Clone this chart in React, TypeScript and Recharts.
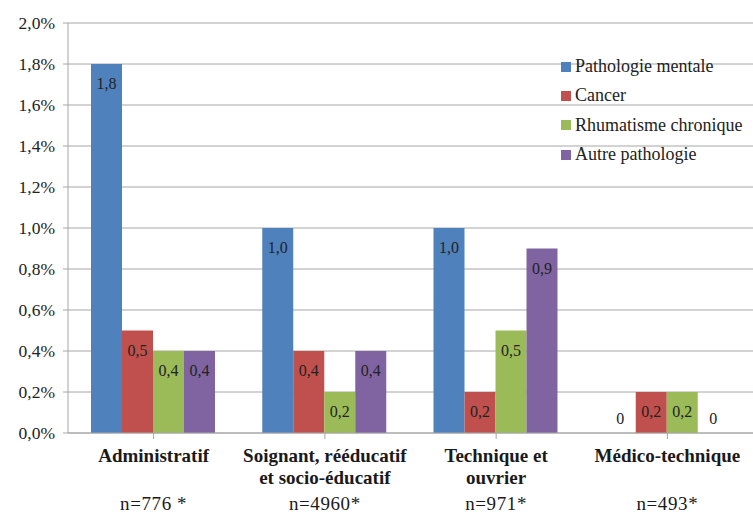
import { BarChart, Bar, XAxis, YAxis, CartesianGrid, LabelList } from 'recharts'

const categories = ['Administratif', 'Soignant', 'Technique', 'Medico']
const categoryLines = [
	['Administratif'],
	['Soignant, rééducatif', 'et socio-éducatif'],
	['Technique et', 'ouvrier'],
	['Médico-technique'],
]
const sampleSizes = ['n=776 *', 'n=4960*', 'n=971*', 'n=493*']

const mentale = [1.8, 1.0, 1.0, 0]
const cancer = [0.5, 0.4, 0.2, 0.2]
const rhumatisme = [0.4, 0.2, 0.5, 0.2]
const autre = [0.4, 0.4, 0.9, 0]

const yTicks = [0, 0.2, 0.4, 0.6, 0.8, 1.0, 1.2, 1.4, 1.6, 1.8, 2.0]

const series = [
	{ key: 'mentale', name: 'Pathologie mentale', color: '#4F81BD' },
	{ key: 'cancer', name: 'Cancer', color: '#C0504D' },
	{ key: 'rhumatisme', name: 'Rhumatisme chronique', color: '#9BBB59' },
	{ key: 'autre', name: 'Autre pathologie', color: '#8064A2' },
]

const data = categories.map((c, i) => ({
	category: c,
	mentale: mentale[i],
	cancer: cancer[i],
	rhumatisme: rhumatisme[i],
	autre: autre[i],
}))

const FONT = 'Liberation Serif'
const fmt = (v: number) => v.toFixed(1).replace('.', ',')

const CategoryTick = (props: any) => {
	const { x, y, index } = props
	const lines = categoryLines[index] ?? []
	return (
		<g>
			{lines.map((line, i) => (
				<text key={i} x={x} y={y + 21 + i * 22} textAnchor='middle' fontFamily={FONT} fontWeight='bold' fontSize={19} fill='#1a1a1a'>
					{line}
				</text>
			))}
			<text x={x} y={y + 69} textAnchor='middle' fontFamily={FONT} fontSize={19} letterSpacing={0.6} fill='#1a1a1a'>
				{sampleSizes[index]}
			</text>
		</g>
	)
}

// zero bars have no height, so their label sits just above the baseline
const ValueLabel = (props: any) => {
	const { x, y, width, height, value } = props
	const ty = !value ? y + height - 9 : y + 25
	return (
		<text x={x + width / 2} y={ty} textAnchor='middle' fontFamily={FONT} fontSize={16} fill='#222'>
			{!value ? '0' : fmt(value)}
		</text>
	)
}

const Legend = () => (
	<div style={{ position: 'absolute', left: 561, top: 52, fontFamily: FONT, fontSize: 18, color: '#222' }}>
		{series.map((s) => (
			<div key={s.key} style={{ display: 'flex', alignItems: 'center', height: 29.3 }}>
				<span style={{ width: 10, height: 10, background: s.color, marginRight: 4, display: 'inline-block' }} />
				<span>{s.name}</span>
			</div>
		))}
	</div>
)

export default function App() {
	return (
		<div style={{ position: 'absolute', left: 0, top: 0, width: 753, height: 515, background: '#fff', fontFamily: FONT }}>
			<BarChart
				width={753}
				height={515}
				data={data}
				margin={{ top: 23, right: 0, bottom: 0, left: 0 }}
				barCategoryGap={23}
				barGap={0}
			>
				<CartesianGrid vertical={false} stroke='#A6A6A6' />
				<XAxis
					dataKey='category'
					height={82}
					tick={<CategoryTick />}
					tickLine={{ stroke: '#A6A6A6' }}
					axisLine={{ stroke: '#A6A6A6' }}
					tickSize={6}
					interval={0}
				/>
				<YAxis
					width={68}
					domain={[0, 2]}
					ticks={yTicks}
					tickFormatter={(v: number) => fmt(v) + '%'}
					tick={{ fontSize: 17.5, fill: '#222', fontFamily: FONT }}
					tickLine={{ stroke: '#A6A6A6' }}
					axisLine={{ stroke: '#A6A6A6' }}
					tickSize={5}
					tickMargin={8}
				/>
				{series.map((s) => (
					<Bar
						key={s.key}
						dataKey={s.key}
						name={s.name}
						fill={s.color}
						isAnimationActive={false}
						minPointSize={(v: number) => (v === 0 ? 0.01 : 0)}
					>
						<LabelList dataKey={s.key} content={<ValueLabel />} />
					</Bar>
				))}
			</BarChart>
			<Legend />
		</div>
	)
}
